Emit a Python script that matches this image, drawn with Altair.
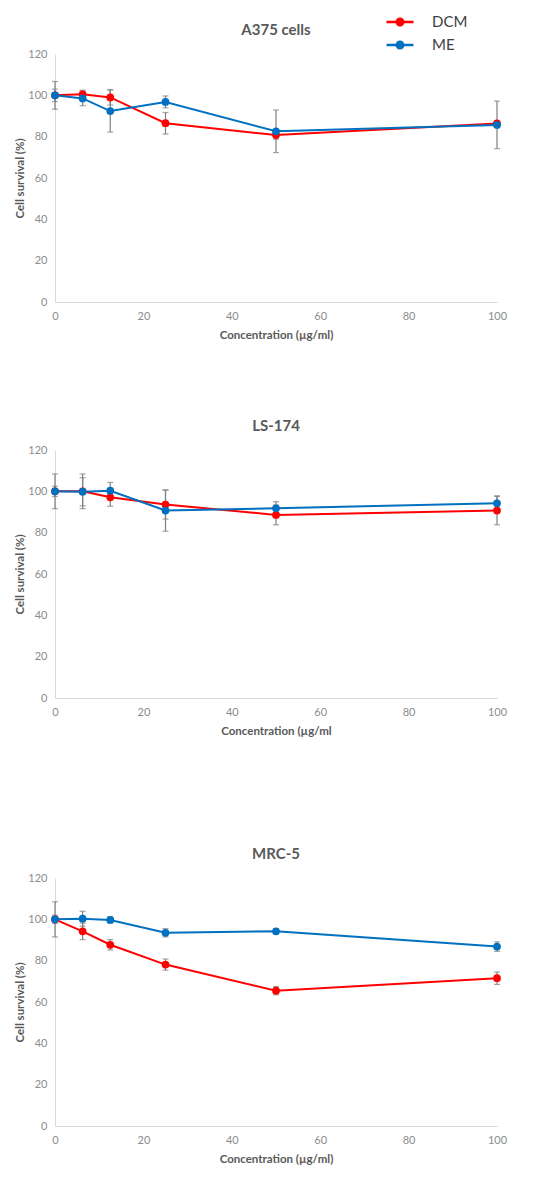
import altair as alt
import pandas as pd

conc = [0, 6.25, 12.5, 25, 50, 100]
panels = ["A375 cells", "LS-174", "MRC-5"]
x_titles = ["Concentration (µg/ml)", "Concentration (µg/ml", "Concentration (µg/ml)"]
series_names = ["DCM", "ME"]
series_colors = ["#FF0000", "#0070C0"]

# A375 cells
a375_dcm = [100, 100.5, 99.0, 86.5, 80.8, 86.4]
a375_dcm_err = [6.7, 2.0, 3.7, 5.2, 2.0, 1.0]
a375_me = [100, 98.5, 92.4, 96.8, 82.6, 85.7]
a375_me_err = [3.0, 3.5, 10.2, 2.9, 10.3, 11.5]

# LS-174
ls_dcm = [100, 100, 97.1, 93.6, 88.6, 90.7]
ls_dcm_err = [8.4, 8.4, 4.3, 7.0, 4.8, 6.9]
ls_me = [100, 99.8, 100.3, 90.7, 91.8, 94.2]
ls_me_err = [2.5, 6.8, 4.0, 10.0, 3.2, 3.6]

# MRC-5
mrc_dcm = [100, 94.2, 87.7, 78.1, 65.5, 71.5]
mrc_dcm_err = [8.5, 4.0, 2.5, 2.7, 2.0, 3.0]
mrc_me = [100, 100.3, 99.7, 93.5, 94.2, 86.8]
mrc_me_err = [2.0, 3.6, 1.5, 2.0, 1.3, 2.3]

values = {
    "A375 cells": ((a375_dcm, a375_dcm_err), (a375_me, a375_me_err)),
    "LS-174": ((ls_dcm, ls_dcm_err), (ls_me, ls_me_err)),
    "MRC-5": ((mrc_dcm, mrc_dcm_err), (mrc_me, mrc_me_err)),
}

rows = []
for p in panels:
    for s, (vals, errs) in zip(series_names, values[p]):
        for c, v, e in zip(conc, vals, errs):
            rows.append({"panel": p, "series": s, "conc": c, "value": v,
                         "lo": v - e, "hi": v + e})
df = pd.DataFrame(rows)

FONT = "Lato"
LABEL_COLOR = "#8c8c8c"
TITLE_COLOR = "#595959"

legend_path = ("M-1.35,-0.12H-0.3V0.12H-1.35Z "
               "M0.3,-0.12H1.35V0.12H0.3Z "
               "M-0.45,0A0.45,0.45 0 1,1 0.45,0A0.45,0.45 0 1,1 -0.45,0Z")

color_scale = alt.Scale(domain=series_names, range=series_colors)

LEGEND = alt.Legend(title=None, orient="none", legendX=335, legendY=-42,
                    symbolType=legend_path, symbolSize=400, symbolStrokeWidth=0,
                    symbolOpacity=1, labelFontSize=15, labelColor="#404040",
                    labelFont=FONT, labelOffset=22, rowPadding=5, direction="vertical")


def make_panel(name, xtitle):
    d = df[df.panel == name]
    x = alt.X("conc:Q", scale=alt.Scale(domain=[0, 100], nice=False),
              axis=alt.Axis(values=[0, 20, 40, 60, 80, 100], title=xtitle, labelFlush=False))
    y = alt.Y("value:Q", scale=alt.Scale(domain=[0, 120], nice=False),
              axis=alt.Axis(values=[0, 20, 40, 60, 80, 100, 120], title="Cell survival (%)"))
    base = alt.Chart(d)
    err = base.mark_rule(color="#7f7f7f", strokeWidth=1.2).encode(
        x=x, y=alt.Y("lo:Q"), y2="hi:Q")
    cap_lo = base.mark_tick(color="#7f7f7f", thickness=1.2, size=6, orient="horizontal").encode(
        x=x, y=alt.Y("lo:Q"))
    cap_hi = base.mark_tick(color="#7f7f7f", thickness=1.2, size=6, orient="horizontal").encode(
        x=x, y=alt.Y("hi:Q"))
    line = base.mark_line(strokeWidth=2).encode(
        x=x, y=y, order="conc:Q",
        color=alt.Color("series:N", scale=color_scale, legend=LEGEND))
    pts = base.mark_circle(size=60, opacity=1).encode(
        x=x, y=y,
        color=alt.Color("series:N", scale=color_scale, legend=LEGEND))
    return alt.layer(err, cap_lo, cap_hi, line, pts).properties(
        width=442, height=248,
        title=alt.TitleParams(name, fontSize=15, font=FONT, fontWeight="bold",
                              color=TITLE_COLOR, anchor="middle", offset=10))


p1 = make_panel(panels[0], x_titles[0])
p2 = make_panel(panels[1], x_titles[1])
p3 = make_panel(panels[2], x_titles[2])

chart = alt.vconcat(alt.vconcat(p1, p2, spacing=78), p3, spacing=110).properties(
    padding={"left": 6, "top": 4, "right": 5, "bottom": 5}
).configure_view(stroke=None).configure_axis(
    grid=False, ticks=False, tickSize=0, domainColor="#d9d9d9", domainWidth=1,
    labelFont=FONT, labelFontSize=11, labelColor=LABEL_COLOR, labelPadding=8,
    titleFont=FONT, titleFontSize=11.5, titleFontWeight="bold", titleColor=TITLE_COLOR,
).configure_axisX(titlePadding=8).configure_axisY(titlePadding=2)

chart.save("out.html", embed_options={"renderer": "svg", "actions": False})
